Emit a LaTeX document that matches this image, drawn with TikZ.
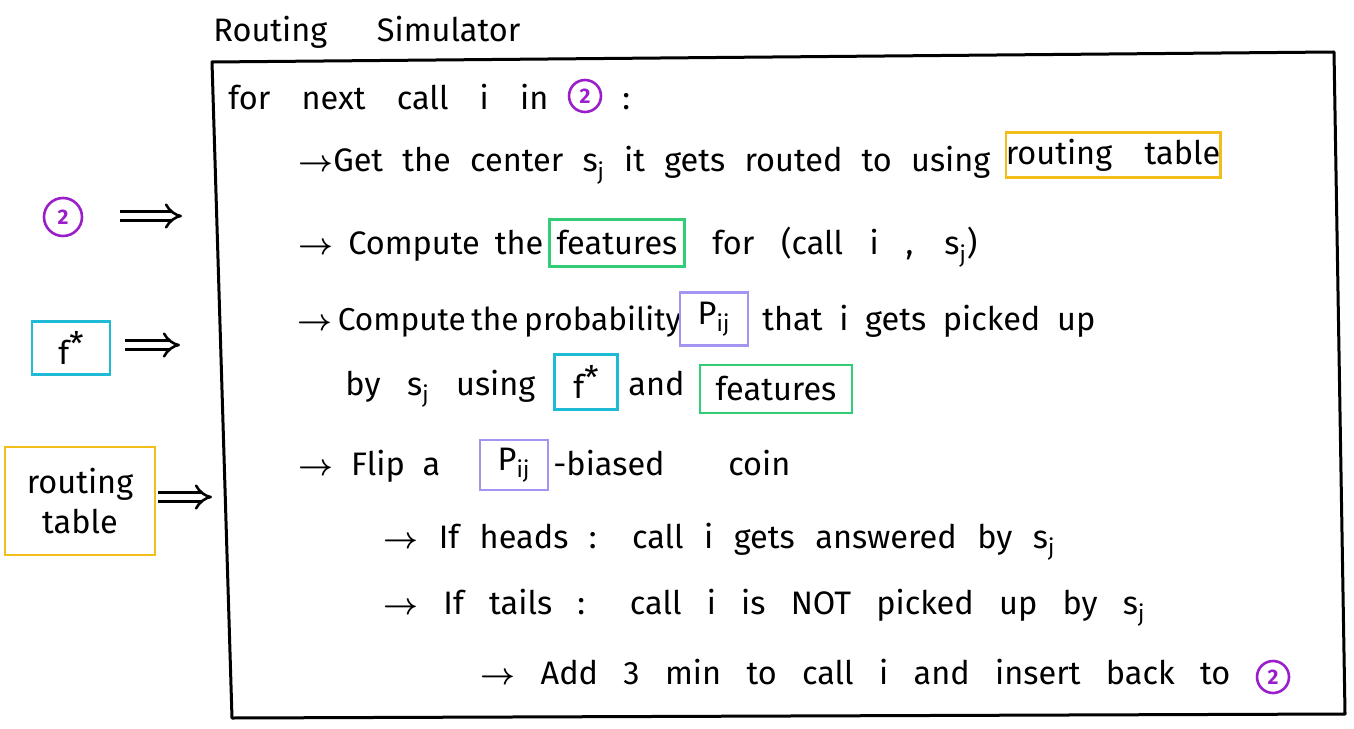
\documentclass[tikz,border=0pt]{standalone}
\usepackage{fontspec}
\setmainfont{Fira Sans}
\usetikzlibrary{arrows.meta}
\newlength\px \setlength\px{0.02cm}
\newcommand\hand{\fontsize{18.5}{23}\selectfont}
\newcommand\sj{s\textsubscript{j}}
\newcommand\pij{P\textsubscript{ij}}
\newcommand\fstar{f\raisebox{.3em}{*}}
\newcommand\ar{{\boldmath$\rightarrow$}}
\newcommand\sline[2]{\makebox[#1\px][s]{#2}}
\definecolor{cpurple}{HTML}{9A1FCB}
\definecolor{ccyan}{HTML}{1FBAD6}
\definecolor{cyellow}{HTML}{F2BE1A}
\definecolor{cgreen}{HTML}{33CC77}
\definecolor{clav}{HTML}{A593F2}
\tikzset{
  txt/.style={font=\hand, inner sep=0pt, anchor=base west},
  hl/.style={draw=#1, line width=2.6\px, inner sep=0pt, font=\hand},
  circ/.style={circle, draw=cpurple, text=cpurple, line width=2.6\px, inner sep=0pt, minimum size=34\px, font=\bfseries\large},
  frame/.style={draw=black, line width=3\px, line join=round},
  dbl/.style={line width=2.6\px, double distance=6\px, -{Implies}}
}
\begin{document}
\begin{tikzpicture}[x=0.02cm, y=-0.02cm]
\useasboundingbox (0,0) rectangle (1354,729);
% title and frame
\node[txt] (title) at (213,42) {\sline{307}{Routing Simulator}};
\draw[frame] (212,62) -- (1334,52) -- (1345,714) -- (232,718) -- cycle;
% line 1
\node[txt] (l1) at (228,110) {\sline{320}{for next call i in}};
\node[circ, minimum size=32\px] (c1) at (585,96) {2};
\node[txt] (colon) at (622,110) {:};
% line 2
\node[txt] (l2) at (298,172) {\sline{692}{\ar Get the center \sj{} it gets routed to using}};
\node[hl=cyellow, minimum width=213\px, minimum height=45\px] (rt) at (1113,155) {routing\quad table};
% line 3
\node[txt] (l3a) at (298,255) {\sline{245}{\ar{} Compute the}};
\node[hl=cgreen, minimum width=135\px, minimum height=47\px] (feat1) at (617,243) {features};
\node[txt] (l3b) at (712,255) {\sline{265}{for (call i , \sj)}};
% line 4
\node[txt, font=\fontsize{18}{22}\selectfont] (l4a) at (297,330) {\sline{373}{\ar{} Compute the probability}};
\node[hl=clav, minimum width=68\px, minimum height=53\px] (p1) at (714,319) {\pij};
\node[txt] (l4b) at (762,330) {\sline{333}{that i gets picked up}};
% line 5
\node[txt] (l5a) at (345,395) {\sline{190}{by \sj{} using}};
\node[hl=ccyan, minimum width=63\px, minimum height=55\px] (f2) at (586,382) {\fstar};
\node[txt] (l5b) at (628,395) {and};
\node[hl=cgreen, minimum width=152\px, minimum height=48\px] (feat2) at (776,389) {features};
% line 6
\node[txt] (l6a) at (298,475) {\sline{142}{\ar{} Flip a}};
\node[hl=clav, minimum width=68\px, minimum height=50\px] (p2) at (514,465) {\pij};
\node[txt] (l6b) at (553,475) {\sline{237}{-biased coin}};
% lines 7-9
\node[txt] (l7) at (383,548) {\sline{672}{\ar{} If heads : call i gets answered by \sj}};
\node[txt] (l8) at (383,614) {\sline{762}{\ar{} If tails : call i is NOT picked up by \sj}};
\node[txt] (l9) at (480,684) {\sline{750}{\ar{} Add 3 min to call i and insert back to}};
\node[circ, minimum size=32\px] (c3) at (1273,677) {2};
% left side
\node[circ, minimum size=38\px] (c0) at (63,217) {2};
\coordinate (a1s) at (120,216);
\coordinate (a1e) at (182,216);
\draw[dbl] (a1s) -- (a1e);
\node[hl=ccyan, minimum width=78\px, minimum height=53\px] (f1) at (71,348) {\fstar};
\coordinate (a2s) at (125,345);
\coordinate (a2e) at (180,345);
\draw[dbl] (a2s) -- (a2e);
\node[hl=cyellow, minimum width=150\px, minimum height=108\px, align=center] (rt2) at (80,501) {routing\\table};
\coordinate (a3s) at (158,497);
\coordinate (a3e) at (212,497);
\draw[dbl] (a3s) -- (a3e);
\end{tikzpicture}
\end{document}
